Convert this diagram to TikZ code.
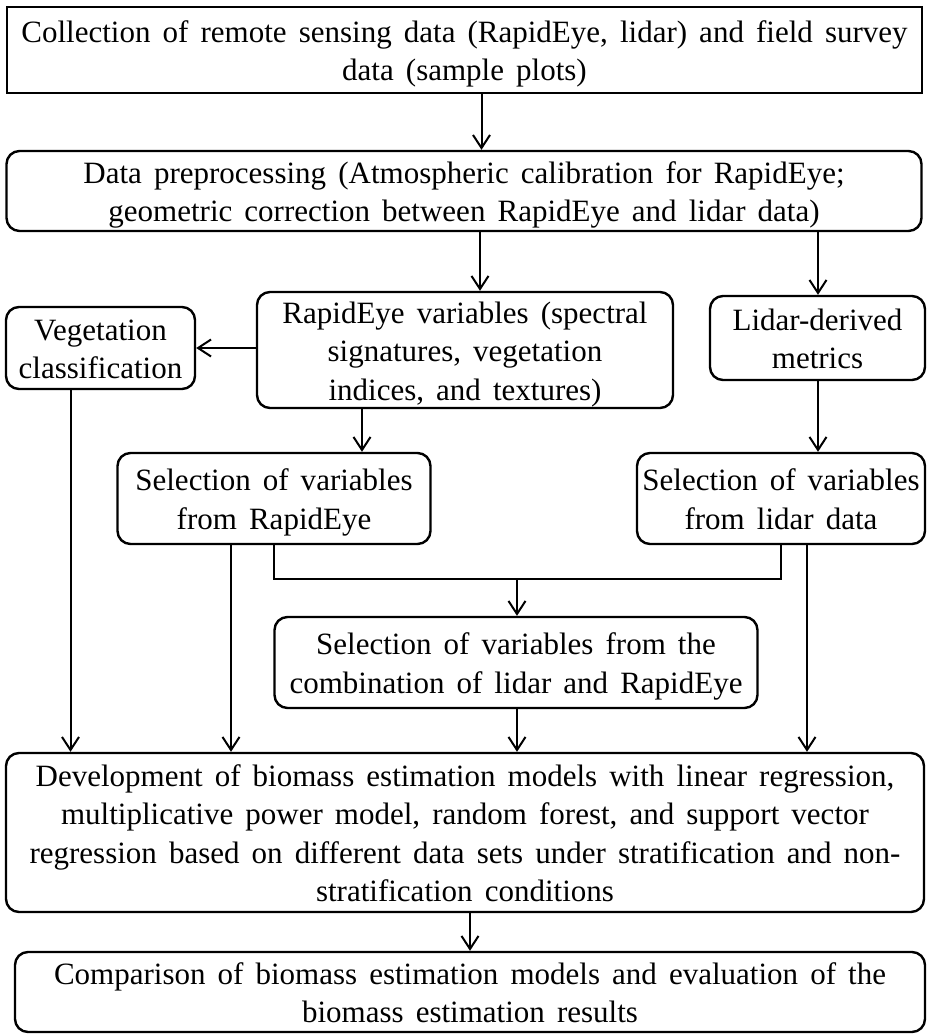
\documentclass[tikz,border=0pt]{standalone}
\usepackage{fontspec}
\setmainfont{Liberation Serif}[WordSpace=1.56]
\usetikzlibrary{arrows.meta}
\newcommand\boxtext[1]{\raisebox{-4pt}[\height][\depth]{\begin{tabular}{@{}c@{}}#1\end{tabular}}}
\begin{document}
\begin{tikzpicture}[x=1pt,y=-1pt,
  box/.style={draw=black,line width=2.4pt,inner sep=0pt,
    font=\fontsize{31}{38.5}\selectfont},
  rbox/.style={box,rounded corners=13pt},
  arr/.style={line width=2pt,-{Straight Barb[length=13pt,width=17pt,line width=2pt]}},
  ln/.style={line width=2pt}]
\useasboundingbox (0,0) rectangle (927,1035);
\node[box,minimum width=915pt,minimum height=86pt] (b1) at (464.5,50)
  {\boxtext{Collection of remote sensing data (RapidEye, lidar) and field survey\\data (sample plots)}};
\node[rbox,minimum width=915pt,minimum height=80pt] (b2) at (464,191)
  {\boxtext{Data preprocessing (Atmospheric calibration for RapidEye;\\geometric correction between RapidEye and lidar data)}};
\node[rbox,minimum width=416pt,minimum height=116pt] (b3) at (465,350)
  {\boxtext{RapidEye variables (spectral\\signatures, vegetation\\indices, and textures)}};
\node[rbox,minimum width=189pt,minimum height=82pt] (veg) at (100.5,348)
  {\boxtext{Vegetation\\classification}};
\node[rbox,minimum width=215pt,minimum height=84pt] (lid) at (817.5,338)
  {\boxtext{Lidar-derived\\metrics}};
\node[rbox,minimum width=313pt,minimum height=91pt] (selR) at (274,498.5)
  {\boxtext{Selection of variables\\from RapidEye}};
\node[rbox,minimum width=288pt,minimum height=91pt] (selL) at (781,498.5)
  {\boxtext{Selection of variables\\from lidar data}};
\node[rbox,minimum width=483pt,minimum height=91pt] (comb) at (516,662.5)
  {\boxtext{Selection of variables from the\\combination of lidar and RapidEye}};
\node[rbox,minimum width=918pt,minimum height=159pt] (dev) at (465,832.5)
  {\boxtext{Development of biomass estimation models with linear regression,\\
   multiplicative power model, random forest, and support vector\\
   regression based on different data sets under stratification and non-\\
   stratification conditions}};
\node[rbox,minimum width=910pt,minimum height=80pt] (cmp) at (470,992)
  {\boxtext{Comparison of biomass estimation models and evaluation of the\\biomass estimation results}};
% helper points on node borders
\coordinate (p1) at ([xshift=17pt]b1.south);
\coordinate (p2) at ([xshift=16pt]b2.south);
\coordinate (p3) at ([xshift=354pt]b2.south);
\coordinate (p4) at ([xshift=-103pt]b3.south);
\coordinate (p5) at ([xshift=0.5pt]lid.south);
\coordinate (p6) at ([xshift=-30pt]veg.south);
\coordinate (p7) at ([xshift=-43pt]selR.south);
\coordinate (p8) at ([xshift=1pt]comb.south);
\coordinate (p9) at ([xshift=26pt]selL.south);
\coordinate (j) at ([xshift=1pt,yshift=37pt]comb.north);
% connectors
\draw[arr] (p1) -- (b2.north -| p1);
\draw[arr] (p2) -- (b3.north -| p2);
\draw[arr] (p3) -- (lid.north -| p3);
\draw[arr] (b3.west |- veg.east) -- (veg.east);
\draw[arr] (p4) -- (selR.north -| p4);
\draw[arr] (p5) -- (selL.north -| p5);
\draw[ln] (selR.south) |- (j) -| (selL.south);
\draw[arr] (j) -- (comb.north -| j);
\draw[arr] (p6) -- (dev.north -| p6);
\draw[arr] (p7) -- (dev.north -| p7);
\draw[arr] (p8) -- (dev.north -| p8);
\draw[arr] (p9) -- (dev.north -| p9);
\draw[arr] (dev.south -| cmp.north) -- (cmp.north);
\end{tikzpicture}
\end{document}
